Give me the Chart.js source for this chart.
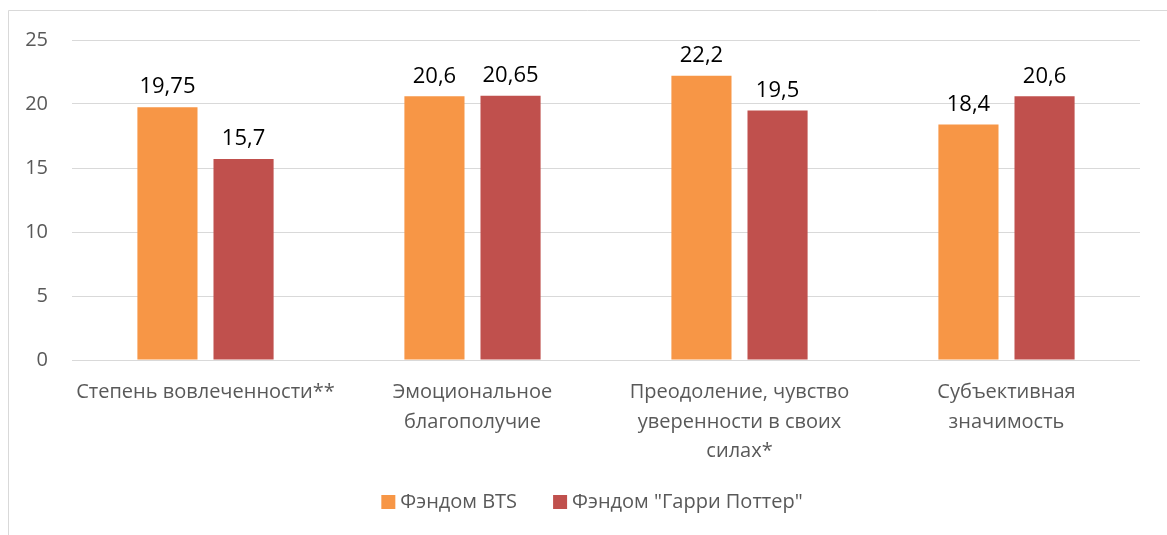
<!DOCTYPE html>
<html>
<head>
<meta charset="utf-8">
<script src="https://cdn.jsdelivr.net/npm/chart.js@4"></script>
<style>
  html, body { margin: 0; padding: 0; background: #fff; }
  #wrap { position: absolute; left: 0; top: 0; width: 1167px; height: 535px; }
</style>
</head>
<body>
<div id="wrap"><canvas id="chartCanvas" width="1167" height="535"></canvas></div>
<script>
const categories = [
    ["Степень вовлеченности**"],
    ["Эмоциональное", "благополучие"],
    ["Преодоление, чувство", "уверенности в своих", "силах*"],
    ["Субъективная", "значимость"]
];
const btsValues = [19.75, 20.6, 22.2, 18.4];
const potterValues = [15.7, 20.65, 19.5, 20.6];
const seriesNames = ["Фэндом BTS", "Фэндом \"Гарри Поттер\""];
const seriesColors = ['#F79646', '#C0504D'];
const yTicks = [0, 5, 10, 15, 20, 25];

const FONT = "'Open Sans', 'Noto Sans', sans-serif";

// frame round the chart, like the office chart border
const framePlugin = {
    id: 'frame',
    beforeDraw(chart) {
        const ctx = chart.ctx;
        ctx.save();
        ctx.fillStyle = '#fff';
        ctx.fillRect(0, 0, chart.width, chart.height);
        ctx.strokeStyle = '#d9d9d9';
        ctx.lineWidth = 1;
        ctx.beginPath();
        ctx.moveTo(8.5, chart.height);
        ctx.lineTo(8.5, 10.5);
        ctx.lineTo(chart.width, 10.5);
        ctx.stroke();
        ctx.restore();
    }
};

// value labels above bars
const valueLabels = {
    id: 'valueLabels',
    afterDatasetsDraw(chart) {
        const ctx = chart.ctx;
        ctx.save();
        ctx.font = "22px " + FONT;
        ctx.fillStyle = '#000';
        ctx.textAlign = 'center';
        ctx.textBaseline = 'bottom';
        chart.data.datasets.forEach((ds, i) => {
            chart.getDatasetMeta(i).data.forEach((bar, j) => {
                ctx.fillText(String(ds.data[j]).replace('.', ','), bar.x, bar.y - 9);
            });
        });
        ctx.restore();
    }
};

// legend drawn by hand so the gap between items matches the office layout
const bottomLegend = {
    id: 'bottomLegend',
    afterDraw(chart) {
        const ctx = chart.ctx;
        const box = 14, gap = 5, itemGap = 36, cy = 502, cx = 592;
        ctx.save();
        ctx.font = "20px " + FONT;
        ctx.textBaseline = 'middle';
        const widths = chart.data.datasets.map(ds => ctx.measureText(ds.label).width);
        let total = 0;
        widths.forEach((w, i) => { total += box + gap + w + (i ? itemGap : 0); });
        let x = cx - total / 2;
        chart.data.datasets.forEach((ds, i) => {
            ctx.fillStyle = ds.backgroundColor;
            ctx.fillRect(x, cy - box / 2, box, box);
            x += box + gap;
            ctx.fillStyle = '#595959';
            ctx.fillText(ds.label, x, cy);
            x += widths[i] + itemGap;
        });
        ctx.restore();
    }
};

const ctx = document.getElementById('chartCanvas').getContext('2d');
new Chart(ctx, {
    type: 'bar',
    data: {
        labels: categories,
        datasets: [{
            label: seriesNames[0],
            data: btsValues,
            backgroundColor: seriesColors[0],
            categoryPercentage: 0.57,
            barPercentage: 0.79
        }, {
            label: seriesNames[1],
            data: potterValues,
            backgroundColor: seriesColors[1],
            categoryPercentage: 0.57,
            barPercentage: 0.79
        }]
    },
    options: {
        responsive: false,
        animation: false,
        layout: { padding: { top: 40, right: 27, bottom: 52, left: 0 } },
        plugins: {
            legend: { display: false },
            tooltip: { enabled: false }
        },
        scales: {
            x: {
                grid: { display: false },
                border: { display: false },
                ticks: {
                    font: { family: FONT, size: 20, lineHeight: 1.475 },
                    color: '#595959',
                    maxRotation: 0,
                    padding: 10
                },
                afterFit(scale) { scale.height = 123; }
            },
            y: {
                min: 0,
                max: 25,
                afterBuildTicks(scale) { scale.ticks = yTicks.map(v => ({ value: v })); },
                grid: { color: '#d9d9d9', drawTicks: false },
                border: { display: false },
                ticks: {
                    font: { family: FONT, size: 20 },
                    color: '#595959',
                    padding: 24
                },
                afterFit(scale) { scale.width = 72; }
            }
        }
    },
    plugins: [framePlugin, valueLabels, bottomLegend]
});
</script>
</body>
</html>
